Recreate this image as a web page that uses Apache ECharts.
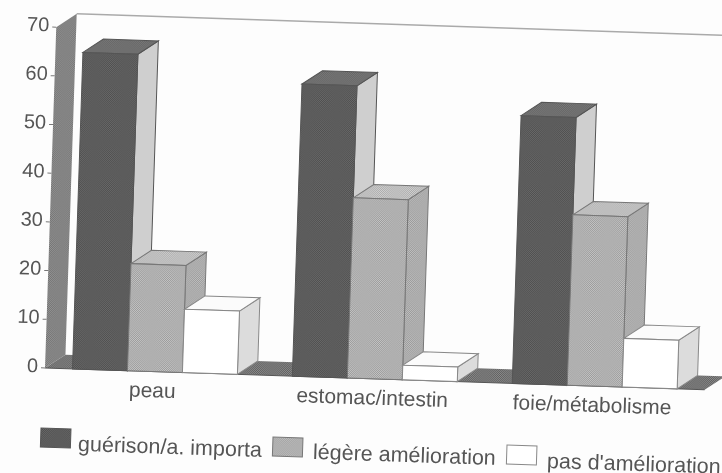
<!DOCTYPE html>
<html>
<head>
<meta charset="utf-8">
<style>
  html, body { margin: 0; padding: 0; background: #fdfdfd; }
  #chart { width: 722px; height: 473px; filter: blur(0.5px); }
</style>
<script src="https://cdn.jsdelivr.net/npm/echarts@6/dist/echarts.min.js"></script>
</head>
<body>
<div id="chart"></div>
<script>
var categories = ['peau', 'estomac/intestin', 'foie/métabolisme'];
var seriesNames = ['guérison/a. importa', 'légère amélioration', "pas d'amélioration"];
var guerison = [65, 60, 55];
var legere = [22, 37, 35];
var pasAmelioration = [13, 3, 10];
var tickLabels = [0, 10, 20, 30, 40, 50, 60, 70];

// the scan is tilted a bit clockwise, everything turns around the axis origin
var OX = 45, OY = 368, TILT = -0.033;
var DX = 20, DY = -14;    // depth of the 3d boxes
var TEXT = '#555';
var FONT = 'Liberation Sans, Arial, sans-serif';

function dots(c1, c2) {
    var cv = document.createElement('canvas');
    cv.width = cv.height = 2;
    var ctx = cv.getContext('2d');
    ctx.fillStyle = c1;
    ctx.fillRect(0, 0, 2, 2);
    ctx.fillStyle = c2;
    ctx.fillRect(0, 0, 1, 1);
    ctx.fillRect(1, 1, 1, 1);
    return { image: cv, repeat: 'repeat' };
}

var wallFill = dots('#6e6e6e', '#999999');
var floorFill = dots('#5e5e5e', '#8c8c8c');
var faces = [
    { front: dots('#4e4e4e', '#6a6a6a'), top: dots('#626262', '#7c7c7c'), side: '#cfcfcf', edge: '#555' },
    { front: dots('#999999', '#c6c6c6'), top: dots('#aaaaaa', '#d2d2d2'), side: dots('#999999', '#c0c0c0'), edge: '#777' },
    { front: '#ffffff', top: '#fbfbfb', side: '#dcdcdc', edge: '#888' }
];

function tilt(children) {
    return { type: 'group', originX: OX, originY: OY, rotation: TILT, children: children };
}

// screen position -> position inside the tilted group
function flat(x, y) {
    var dx = x - OX, dy = y - OY, c = Math.cos(TILT), s = Math.sin(TILT);
    return [OX + dx * c - dy * s, OY + dx * s + dy * c];
}

function poly(points, fill, stroke) {
    return { type: 'polygon', shape: { points: points }, style: { fill: fill, stroke: stroke || null, lineWidth: 1 } };
}

function label(text, x, y, align, size) {
    return {
        type: 'text',
        style: { text: text, x: x, y: y, fill: TEXT, font: size + 'px ' + FONT, align: align, verticalAlign: 'middle' }
    };
}

function renderBar(k) {
    return function (params, api) {
        var c = api.coord([api.value(0), api.value(1)]);
        var base = api.coord([api.value(0), 0])[1];
        var w = api.size([1, 0])[0] / 4;
        var x0 = c[0] + (k - 1.5) * w, x1 = x0 + w, top = c[1];
        var f = faces[k];
        return tilt([
            poly([[x1, top], [x1 + DX, top + DY], [x1 + DX, base + DY], [x1, base]], f.side, f.edge),
            poly([[x0, top], [x0 + DX, top + DY], [x1 + DX, top + DY], [x1, top]], f.top, f.edge),
            poly([[x0, top], [x1, top], [x1, base], [x0, base]], f.front, f.edge)
        ]);
    };
}

function renderWalls(params, api) {
    var band = api.size([1, 0])[0];
    var o = api.coord([0, 0]);
    var t = api.coord([0, 70]);
    var left = o[0] - band / 2;
    var right = left + band * categories.length;
    return tilt([
        { type: 'line', shape: { x1: left + DX, y1: t[1] + DY, x2: right + DX, y2: t[1] + DY }, style: { stroke: '#aaa', lineWidth: 1.5 } },
        poly([[left, t[1]], [left + DX, t[1] + DY], [left + DX, o[1] + DY], [left, o[1]]], wallFill),
        poly([[left, o[1]], [left + DX, o[1] + DY], [right + DX, o[1] + DY], [right, o[1]]], floorFill),
        { type: 'line', shape: { x1: left, y1: o[1], x2: right, y2: o[1] }, style: { stroke: '#555', lineWidth: 1 } }
    ]);
}

function renderTick(params, api) {
    var band = api.size([1, 0])[0];
    var p = api.coord([0, api.value(0)]);
    var left = p[0] - band / 2;
    return tilt([
        { type: 'line', shape: { x1: left - 4, y1: p[1], x2: left, y2: p[1] }, style: { stroke: '#777', lineWidth: 1 } },
        label(String(api.value(0)), left - 7, p[1] - 1, 'right', 20)
    ]);
}

function renderCategory(params, api) {
    var p = api.coord([api.value(0), 0]);
    return tilt([label(categories[api.value(0)], p[0] - 2, p[1] + 20, 'center', 21)]);
}

var legendBox = [[41, 428], [273, 437], [507, 445]];
var legendText = [[78, 445], [313, 453], [547, 462]];

function renderLegend(params, api) {
    var i = api.value(0);
    var b = flat(legendBox[i][0], legendBox[i][1]);
    var t = flat(legendText[i][0], legendText[i][1]);
    return tilt([
        { type: 'rect', shape: { x: b[0], y: b[1], width: 30, height: 19 }, style: { fill: faces[i].front, stroke: faces[i].edge, lineWidth: 1 } },
        label(seriesNames[i], t[0], t[1], 'left', 21.5)
    ]);
}

function seriesData(values) {
    return values.map(function (v, i) { return [i, v]; });
}

var myChart = echarts.init(document.getElementById('chart'));
var option = {
    animation: false,
    backgroundColor: '#fdfdfd',
    grid: { left: OX, top: 27, width: 660, height: 341 },
    xAxis: { type: 'category', data: categories, show: false },
    yAxis: { type: 'value', min: 0, max: 70, interval: 10, show: false },
    series: [
        { type: 'custom', name: 'walls', renderItem: renderWalls, data: [[0, 0]], silent: true },
        { type: 'custom', name: 'ticks', renderItem: renderTick, data: tickLabels.map(function (v) { return [v]; }), silent: true, encode: { y: 0 } },
        { type: 'custom', name: 'categories', renderItem: renderCategory, data: seriesData([0, 0, 0]), silent: true },
        { type: 'custom', name: seriesNames[0], renderItem: renderBar(0), data: seriesData(guerison) },
        { type: 'custom', name: seriesNames[1], renderItem: renderBar(1), data: seriesData(legere) },
        { type: 'custom', name: seriesNames[2], renderItem: renderBar(2), data: seriesData(pasAmelioration) },
        { type: 'custom', name: 'legend', renderItem: renderLegend, data: [[0, 0], [1, 0], [2, 0]], silent: true }
    ]
};
myChart.setOption(option);
</script>
</body>
</html>
